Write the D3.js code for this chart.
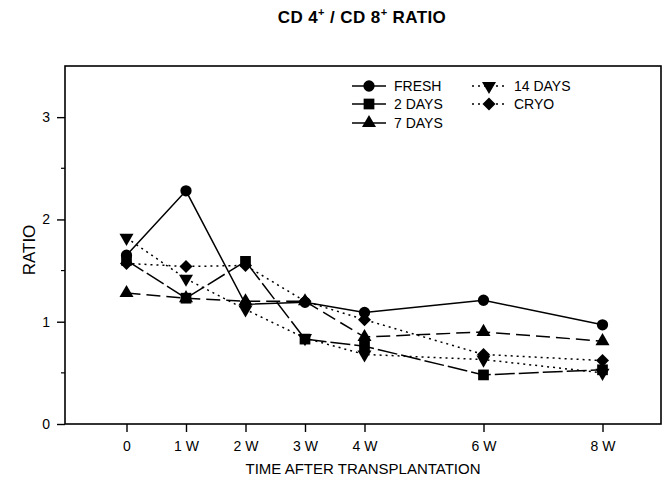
<!DOCTYPE html>
<html>
<head>
<meta http-equiv="Content-Type" content="text/html;charset=utf-8">
<script type="text/javascript" src="https://d3js.org/d3.v7.min.js"></script>
<style>
  body { margin: 0; background: #fff; }
  text { font-family: Arial, "Liberation Sans", sans-serif; fill: #000; }
</style>
</head>
<body>
<div id="chart"></div>
<script type="text/javascript">

// data
var weeks = [0, 1, 2, 3, 4, 6, 8];
var weekLabels = ["0", "1 W", "2 W", "3 W", "4 W", "6 W", "8 W"];
var yTicks = [0, 1, 2, 3];
var yMinor = [0.5, 1.5, 2.5];

var fresh  = [1.65, 2.28, 1.17, 1.19, 1.09, 1.21, 0.97];
var days2  = [1.60, 1.23, 1.59, 0.83, 0.76, 0.48, 0.53];
var days7  = [1.28, 1.23, 1.20, 1.20, 0.85, 0.90, 0.81];
var days14 = [1.82, 1.42, 1.12, 0.84, 0.68, 0.63, 0.50];
var cryo   = [1.57, 1.54, 1.55, 1.20, 1.02, 0.68, 0.62];

var seriesNames = ["FRESH", "2 DAYS", "7 DAYS", "14 DAYS", "CRYO"];

var series = [
  {name: seriesNames[0], values: fresh,  dash: null,   symbol: d3.symbolCircle,   size: 100, rot: 0},
  {name: seriesNames[1], values: days2,  dash: "20,4", symbol: d3.symbolSquare,   size: 115, rot: 0},
  {name: seriesNames[2], values: days7,  dash: "14,6", symbol: d3.symbolTriangle, size: 85,  rot: 0},
  {name: seriesNames[3], values: days14, dash: "2,4",  symbol: d3.symbolTriangle, size: 85,  rot: 180},
  {name: seriesNames[4], values: cryo,   dash: "2,4",  symbol: d3.symbolSquare,   size: 85,  rot: 45}
];

var width = 667, height = 483;
var plotLeft = 65, plotRight = 661, plotTop = 66, plotBottom = 424;

var svg = d3.select("#chart").append("svg")
    .attr("width", width)
    .attr("height", height);

var x = d3.scaleLinear().domain([-1, 9]).range([plotLeft + 2, plotRight + 1]);
var y = d3.scaleLinear().domain([0, 3.5]).range([plotBottom, plotTop]);

// frame
svg.append("rect")
    .attr("x", plotLeft).attr("y", plotTop)
    .attr("width", plotRight - plotLeft).attr("height", plotBottom - plotTop)
    .attr("fill", "none").attr("stroke", "#000").attr("stroke-width", 1.6);

// x axis
var xAxis = d3.axisBottom(x)
    .tickValues(weeks)
    .tickSize(8)
    .tickPadding(6)
    .tickFormat(function(d, i) { return weekLabels[i]; });

var gx = svg.append("g")
    .attr("transform", "translate(0," + plotBottom + ")")
    .call(xAxis);
gx.select(".domain").remove();
gx.selectAll("line").attr("stroke-width", 1.4);
gx.selectAll("text").style("font-size", "14px").attr("dy", "0.9em");

// y axis
var yAxis = d3.axisLeft(y)
    .tickValues(yTicks)
    .tickSize(8)
    .tickPadding(7)
    .tickFormat(d3.format("d"));

var gy = svg.append("g")
    .attr("transform", "translate(" + plotLeft + ",0)")
    .call(yAxis);
gy.select(".domain").remove();
gy.selectAll("line").attr("stroke-width", 1.4);
gy.selectAll("text").style("font-size", "14px");

svg.append("g").selectAll("line")
    .data(yMinor)
    .enter().append("line")
    .attr("x1", plotLeft - 4).attr("x2", plotLeft)
    .attr("y1", function(d) { return y(d); })
    .attr("y2", function(d) { return y(d); })
    .attr("stroke", "#000").attr("stroke-width", 1.2);

// lines
var line = d3.line()
    .x(function(d, i) { return x(weeks[i]); })
    .y(function(d) { return y(d); });

svg.append("g").selectAll("path")
    .data(series)
    .enter().append("path")
    .attr("d", function(s) { return line(s.values); })
    .attr("fill", "none")
    .attr("stroke", "#000")
    .attr("stroke-width", 1.5)
    .attr("stroke-dasharray", function(s) { return s.dash; });

// markers
function symbolPath(s) {
  return d3.symbol().type(s.symbol).size(s.size)();
}

series.forEach(function(s) {
  svg.append("g").selectAll("path")
      .data(s.values)
      .enter().append("path")
      .attr("d", symbolPath(s))
      .attr("transform", function(d, i) {
        return "translate(" + x(weeks[i]) + "," + y(d) + ") rotate(" + s.rot + ")";
      })
      .attr("fill", "#000");
});

// legend
var legendPos = [
  [352, 86], [352, 104], [352, 123], [472, 86], [472, 104]
];

var legend = svg.append("g").selectAll("g")
    .data(series)
    .enter().append("g")
    .attr("transform", function(s, i) {
      return "translate(" + legendPos[i][0] + "," + legendPos[i][1] + ")";
    });

legend.append("line")
    .attr("x1", 0).attr("x2", 34)
    .attr("y1", 0).attr("y2", 0)
    .attr("stroke", "#000").attr("stroke-width", 1.5)
    .attr("stroke-dasharray", function(s) { return s.dash && s.dash.indexOf("2,") == 0 ? s.dash : null; });

legend.append("path")
    .attr("d", function(s) { return symbolPath(s); })
    .attr("transform", function(s) { return "translate(17,0) rotate(" + s.rot + ")"; })
    .attr("fill", "#000");

legend.append("text")
    .attr("x", 42).attr("y", 5)
    .style("font-size", "14px")
    .text(function(s) { return s.name; });

// titles
var title = svg.append("text")
    .attr("x", 362).attr("y", 23)
    .attr("text-anchor", "middle")
    .style("font-size", "17px")
    .style("letter-spacing", "0.4px")
    .style("font-weight", "bold");
title.append("tspan").text("CD 4");
title.append("tspan").attr("dy", -7).style("font-size", "11px").text("+");
title.append("tspan").attr("dy", 7).text(" / CD 8");
title.append("tspan").attr("dy", -7).style("font-size", "11px").text("+");
title.append("tspan").attr("dy", 7).text(" RATIO");

svg.append("text")
    .attr("x", 363).attr("y", 474)
    .attr("text-anchor", "middle")
    .style("font-size", "15px")
    .text("TIME AFTER TRANSPLANTATION");

svg.append("text")
    .attr("transform", "translate(35,250) rotate(-90)")
    .attr("text-anchor", "middle")
    .style("font-size", "17px")
    .text("RATIO");

</script>
</body>
</html>
